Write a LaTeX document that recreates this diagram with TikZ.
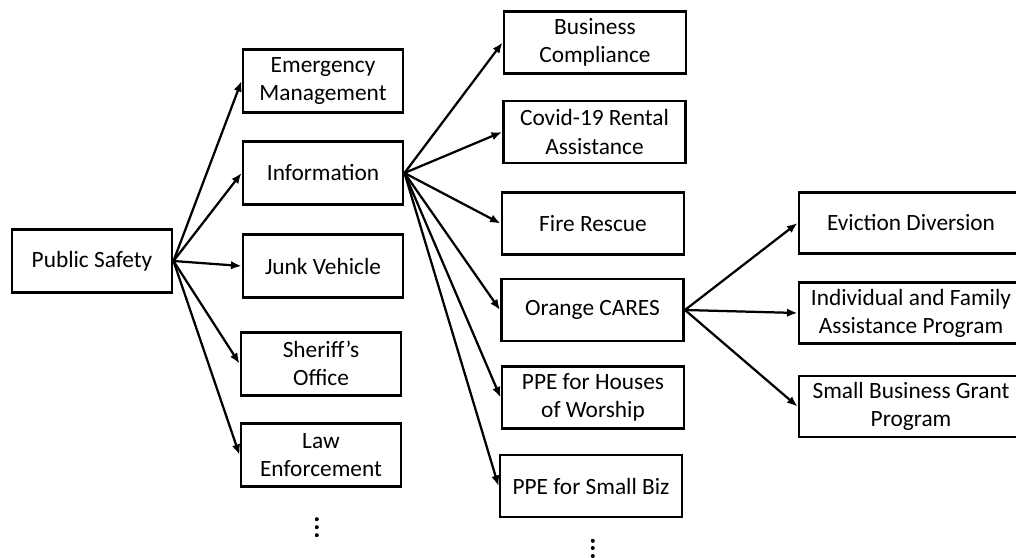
\documentclass[tikz,border=0pt]{standalone}
\usepackage{fontspec}
\setmainfont{Carlito}
\usetikzlibrary{arrows.meta}
\begin{document}
\begin{tikzpicture}[
		box/.style={draw, line width=2.1pt, align=center, inner sep=0pt, font=\fontsize{16.6}{20}\selectfont},
		boxA/.style={box, minimum width=4cm, minimum height=1.575cm},
		boxB/.style={box, minimum width=4.55cm, minimum height=1.55cm},
		boxC/.style={box, minimum width=5.6cm, minimum height=1.525cm},
		freccia/.style={line width=1.6pt, -{Latex[length=7.5pt, width=6pt]}}
	]
		\useasboundingbox (0, 0) rectangle (25.4, -13.95);

		% primo livello
		\node[boxA] (ps) at (2.3, -6.525) {Public Safety};

		% secondo livello
		\node[boxA] (em) at (8.075, -2.025) {Emergency\\Management};
		\node[boxA] (info) at (8.075, -4.325) {Information};
		\node[boxA] (junk) at (8.075, -6.65) {Junk Vehicle};
		\node[boxA] (sher) at (8.025, -9.09) {Sheriff’s\\Office};
		\node[boxA] (law) at (8.025, -11.375) {Law\\Enforcement};

		% terzo livello
		\node[boxB] (bc) at (14.875, -1.0625) {Business\\Compliance};
		\node[boxB] (cov) at (14.8625, -3.3) {Covid-19 Rental\\Assistance};
		\node[boxB] (fire) at (14.825, -5.5875) {Fire Rescue};
		\node[boxB] (or) at (14.8125, -7.75) {Orange CARES};
		\node[boxB] (ppeh) at (14.825, -9.9375) {PPE for Houses\\of Worship};
		\node[boxB] (ppes) at (14.775, -12.15) {PPE for Small Biz};

		% quarto livello
		\node[boxC] (ev) at (22.775, -5.575) {Eviction Diversion};
		\node[boxC] (ind) at (22.775, -7.825) {Individual and Family\\Assistance Program};
		\node[boxC] (sb) at (22.775, -10.1625) {Small Business Grant\\Program};

		% puntini
		\foreach \y in {-12.98, -13.18, -13.38}
			\fill (7.92, \y) circle (0.05);
		\foreach \y in {-13.52, -13.7, -13.9}
			\fill (14.82, \y) circle (0.05);

		% frecce
		\foreach \n in {em, info, junk, sher, law}
			\draw[freccia] (ps.east) -- (\n.west);
		\foreach \n in {bc, cov, fire, or, ppeh, ppes}
			\draw[freccia] (info.east) -- (\n.west);
		\foreach \n in {ev, ind, sb}
			\draw[freccia] (or.east) -- (\n.west);
	\end{tikzpicture}
\end{document}
